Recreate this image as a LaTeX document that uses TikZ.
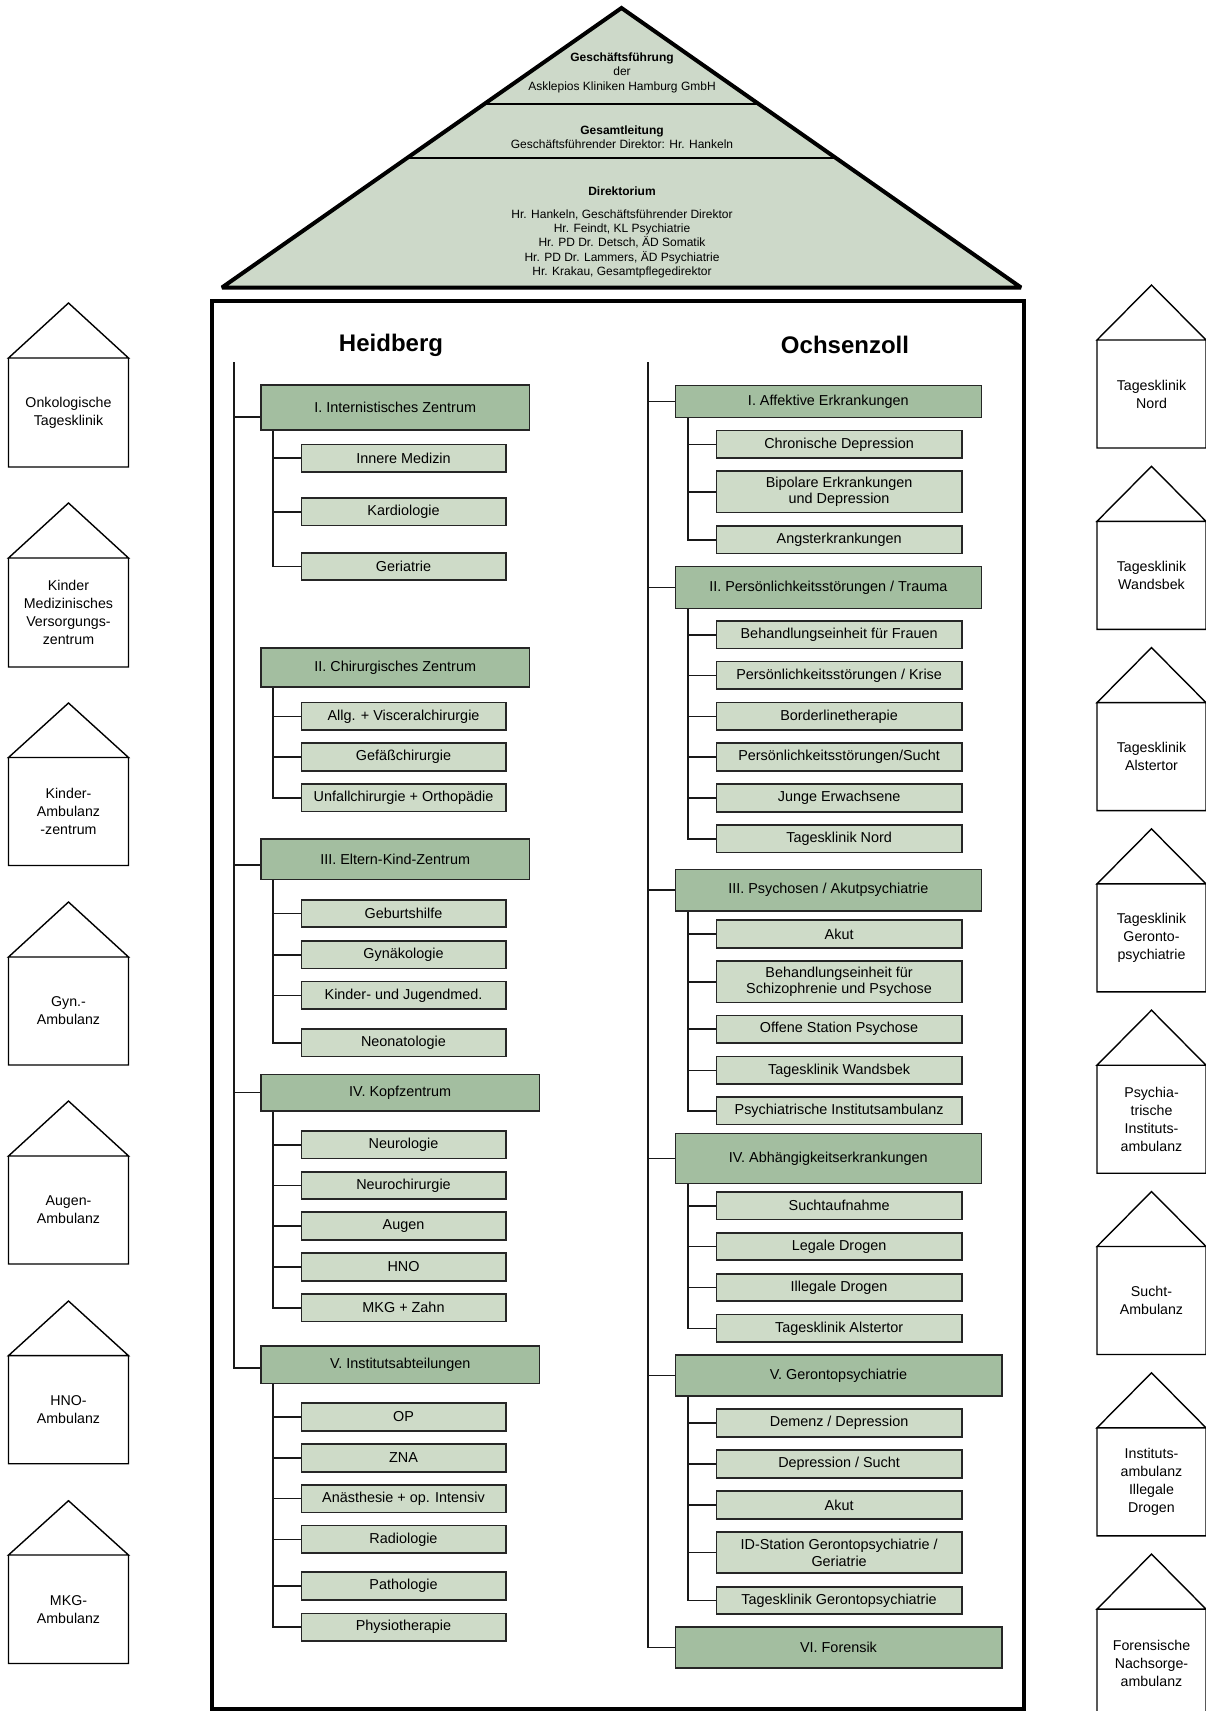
\documentclass[tikz,border=0pt]{standalone}
\usepackage{fontspec}
\setmainfont{Liberation Sans}
\usepackage{xcolor}
\usepackage{tikz}
\usetikzlibrary{calc}

\definecolor{maingreen}{RGB}{163,190,160}
\definecolor{subgreen}{RGB}{206,219,200}
\definecolor{pyrgreen}{RGB}{205,217,201}
\newcommand{\boxtxt}{\fontsize{14.4}{16.7}\selectfont}
\newcommand{\housetxt}{\fontsize{14.2}{18}\selectfont}
\newcommand{\pyrtxt}{\fontsize{12}{14.4}\selectfont}
\newcommand{\titletxt}{\fontsize{24}{28}\selectfont\bfseries}

\begin{document}
\begin{tikzpicture}[x=1pt, y=-1pt,
  mainbox/.style={draw=black!85, line width=1.6pt, fill=maingreen, inner sep=0pt, align=center, font=\boxtxt},
  subbox/.style={draw=black!85, line width=1.6pt, fill=subgreen, inner sep=0pt, align=center, font=\boxtxt, minimum height=27.5pt},
  hmain/.style={mainbox, minimum width=268.4pt},
  hmainwide/.style={mainbox, minimum width=278.4pt},
  omain/.style={mainbox, minimum width=306pt},
  omainwide/.style={mainbox, minimum width=326.4pt},
  hsub/.style={subbox, minimum width=204.4pt},
  osub/.style={subbox, minimum width=245.6pt},
  trunk/.style={draw=black!90, line width=1.6pt},
  house/.style={draw=black, line width=1.4pt},
  housetext/.style={align=center, font=\housetxt}]
\useasboundingbox (0,0) rectangle (1205,1711);

% pyramid
\coordinate (pyApex) at (621.5, 8.00);
\coordinate (pyLeft) at (222.00, 287.50);
\coordinate (pyRight) at (1021.00, 287.50);
\draw[line width=4pt, miter limit=2, fill=pyrgreen] (pyLeft) -- (pyApex) -- (pyRight) -- cycle;
\draw[line width=2.4pt] ($(pyApex)!0.3435!(pyLeft)$) -- ($(pyApex)!0.3435!(pyRight)$);
\draw[line width=2.4pt] ($(pyApex)!0.5377!(pyLeft)$) -- ($(pyApex)!0.5377!(pyRight)$);
\node[align=center, font=\pyrtxt] (pyGf) at (622.00, 72.50) {\textbf{Geschäftsführung}\\der\\Asklepios Kliniken Hamburg GmbH};
\node[align=center, font=\pyrtxt] (pyGl) at (622.00, 137.20) {\textbf{Gesamtleitung}\\Geschäftsführender Direktor: Hr. Hankeln};
\node[align=center, font=\pyrtxt] (pyDirHead) at (622.00, 191.00) {\textbf{Direktorium}};
\node[align=center, font=\pyrtxt] (pyDirList) at (622.00, 243.80) {Hr. Hankeln, Geschäftsführender Direktor\\Hr. Feindt, KL Psychiatrie\\Hr. PD Dr. Detsch, ÄD Somatik\\Hr. PD Dr. Lammers, ÄD Psychiatrie\\Hr. Krakau, Gesamtpflegedirektor};

% building
\draw[line width=4pt] (211.50, 301.00) rectangle (1024.00, 1708.50);
\node[font=\titletxt] (heidberg) at (391.00, 345.00) {Heidberg};
\node[font=\titletxt] (ochsenzoll) at (845.00, 345.00) {Ochsenzoll};

% Heidberg
\coordinate (hTrunk) at (233.80, 362.00);
\node[hmain, minimum height=45pt] (hI) at (395.20, 407.50) {I. Internistisches Zentrum};
\node[hsub] (hI1) at (403.50, 458.20) {Innere Medizin};
\node[hsub] (hI2) at (403.50, 511.70) {Kardiologie};
\node[hsub] (hI3) at (403.50, 566.50) {Geriatrie};
\node[hmain, minimum height=38.5pt] (hII) at (395.20, 667.50) {II. Chirurgisches Zentrum};
\node[hsub] (hII1) at (403.50, 716.30) {Allg. + Visceralchirurgie};
\node[hsub] (hII2) at (403.50, 757.00) {Gefäßchirurgie};
\node[hsub] (hII3) at (403.50, 797.80) {Unfallchirurgie + Orthopädie};
\node[hmain, minimum height=40.3pt] (hIII) at (395.20, 859.20) {III. Eltern-Kind-Zentrum};
\node[hsub] (hIII1) at (403.50, 913.50) {Geburtshilfe};
\node[hsub] (hIII2) at (403.50, 954.70) {Gynäkologie};
\node[hsub] (hIII3) at (403.50, 995.30) {Kinder- und Jugendmed.};
\node[hsub] (hIII4) at (403.50, 1042.80) {Neonatologie};
\node[hmainwide, minimum height=36.4pt] (hIV) at (400.20, 1092.50) {IV. Kopfzentrum};
\node[hsub] (hIV1) at (403.50, 1144.70) {Neurologie};
\node[hsub] (hIV2) at (403.50, 1185.50) {Neurochirurgie};
\node[hsub] (hIV3) at (403.50, 1226.00) {Augen};
\node[hsub] (hIV4) at (403.50, 1267.00) {HNO};
\node[hsub] (hIV5) at (403.50, 1307.70) {MKG + Zahn};
\node[hmainwide, minimum height=37.3pt] (hV) at (400.20, 1364.70) {V. Institutsabteilungen};
\node[hsub] (hV1) at (403.50, 1417.00) {OP};
\node[hsub] (hV2) at (403.50, 1458.00) {ZNA};
\node[hsub] (hV3) at (403.50, 1498.60) {Anästhesie + op. Intensiv};
\node[hsub] (hV4) at (403.50, 1539.30) {Radiologie};
\node[hsub] (hV5) at (403.50, 1586.00) {Pathologie};
\node[hsub] (hV6) at (403.50, 1627.20) {Physiotherapie};

\draw[trunk] (hTrunk) |- ([yshift=-3pt]hV.west);
\draw[trunk] ([yshift=-9.5pt]hTrunk |- hI.west) -- ([yshift=-9.5pt]hI.west);
\draw[trunk] ([yshift=-6pt]hTrunk |- hIII.west) -- ([yshift=-6pt]hIII.west);
\draw[trunk] (hTrunk |- hIV.west) -- (hIV.west);
\draw[trunk] ([xshift=13pt]hI.south west) |- (hI3.west);
\draw[trunk] ([xshift=13pt]hI.south west |- hI1.west) -- (hI1.west);
\draw[trunk] ([xshift=13pt]hI.south west |- hI2.west) -- (hI2.west);
\draw[trunk] ([xshift=13pt]hII.south west) |- (hII3.west);
\draw[trunk] ([xshift=13pt]hII.south west |- hII1.west) -- (hII1.west);
\draw[trunk] ([xshift=13pt]hII.south west |- hII2.west) -- (hII2.west);
\draw[trunk] ([xshift=13pt]hIII.south west) |- (hIII4.west);
\draw[trunk] ([xshift=13pt]hIII.south west |- hIII1.west) -- (hIII1.west);
\draw[trunk] ([xshift=13pt]hIII.south west |- hIII2.west) -- (hIII2.west);
\draw[trunk] ([xshift=13pt]hIII.south west |- hIII3.west) -- (hIII3.west);
\draw[trunk] ([xshift=13pt]hIV.south west) |- (hIV5.west);
\draw[trunk] ([xshift=13pt]hIV.south west |- hIV1.west) -- (hIV1.west);
\draw[trunk] ([xshift=13pt]hIV.south west |- hIV2.west) -- (hIV2.west);
\draw[trunk] ([xshift=13pt]hIV.south west |- hIV3.west) -- (hIV3.west);
\draw[trunk] ([xshift=13pt]hIV.south west |- hIV4.west) -- (hIV4.west);
\draw[trunk] ([xshift=13pt]hV.south west) |- (hV6.west);
\draw[trunk] ([xshift=13pt]hV.south west |- hV1.west) -- (hV1.west);
\draw[trunk] ([xshift=13pt]hV.south west |- hV2.west) -- (hV2.west);
\draw[trunk] ([xshift=13pt]hV.south west |- hV3.west) -- (hV3.west);
\draw[trunk] ([xshift=13pt]hV.south west |- hV4.west) -- (hV4.west);
\draw[trunk] ([xshift=13pt]hV.south west |- hV5.west) -- (hV5.west);

% Ochsenzoll
\coordinate (oTrunk) at (648.00, 362.00);
\node[omain, minimum height=32pt] (oI) at (828.30, 401.30) {I. Affektive Erkrankungen};
\node[osub] (oI1) at (839.10, 444.30) {Chronische Depression};
\node[osub, minimum height=41.3pt] (oI2) at (839.10, 491.70) {Bipolare Erkrankungen\\und Depression};
\node[osub] (oI3) at (839.10, 539.70) {Angsterkrankungen};
\node[omain, minimum height=41.7pt] (oII) at (828.30, 587.50) {II. Persönlichkeitsstörungen / Trauma};
\node[osub] (oII1) at (839.10, 634.70) {Behandlungseinheit für Frauen};
\node[osub] (oII2) at (839.10, 675.30) {Persönlichkeitsstörungen / Krise};
\node[osub] (oII3) at (839.10, 716.30) {Borderlinetherapie};
\node[osub] (oII4) at (839.10, 757.00) {Persönlichkeitsstörungen/Sucht};
\node[osub] (oII5) at (839.10, 798.00) {Junge Erwachsene};
\node[osub] (oII6) at (839.10, 838.80) {Tagesklinik Nord};
\node[omain, minimum height=41.7pt] (oIII) at (828.30, 890.20) {III. Psychosen / Akutpsychiatrie};
\node[osub] (oIII1) at (839.10, 934.00) {Akut};
\node[osub, minimum height=41.3pt] (oIII2) at (839.10, 981.70) {Behandlungseinheit für\\Schizophrenie und Psychose};
\node[osub] (oIII3) at (839.10, 1029.20) {Offene Station Psychose};
\node[osub] (oIII4) at (839.10, 1070.30) {Tagesklinik Wandsbek};
\node[osub] (oIII5) at (839.10, 1110.80) {Psychiatrische Institutsambulanz};
\node[omain, minimum height=50pt] (oIV) at (828.30, 1158.30) {IV. Abhängigkeitserkrankungen};
\node[osub] (oIV1) at (839.10, 1205.70) {Suchtaufnahme};
\node[osub] (oIV2) at (839.10, 1246.50) {Legale Drogen};
\node[osub] (oIV3) at (839.10, 1287.50) {Illegale Drogen};
\node[osub] (oIV4) at (839.10, 1328.30) {Tagesklinik Alstertor};
\node[omainwide, minimum height=41pt] (oV) at (838.50, 1375.50) {V. Gerontopsychiatrie};
\node[osub] (oV1) at (839.10, 1423.00) {Demenz / Depression};
\node[osub] (oV2) at (839.10, 1464.00) {Depression / Sucht};
\node[osub] (oV3) at (839.10, 1505.00) {Akut};
\node[osub, minimum height=41pt] (oV4) at (839.10, 1552.50) {ID-Station Gerontopsychiatrie /\\Geriatrie};
\node[osub] (oV5) at (839.10, 1600.50) {Tagesklinik Gerontopsychiatrie};
\node[omainwide, minimum height=41.5pt] (oVI) at (838.50, 1647.50) {VI. Forensik};

\draw[trunk] (oTrunk) |- (oVI.west);
\draw[trunk] (oTrunk |- oI.west) -- (oI.west);
\draw[trunk] (oTrunk |- oII.west) -- (oII.west);
\draw[trunk] (oTrunk |- oIII.west) -- (oIII.west);
\draw[trunk] (oTrunk |- oIV.west) -- (oIV.west);
\draw[trunk] (oTrunk |- oV.west) -- (oV.west);
\draw[trunk] ([xshift=13.5pt]oI.south west) |- (oI3.west);
\draw[trunk] ([xshift=13.5pt]oI.south west |- oI1.west) -- (oI1.west);
\draw[trunk] ([xshift=13.5pt]oI.south west |- oI2.west) -- (oI2.west);
\draw[trunk] ([xshift=13.5pt]oII.south west) |- (oII6.west);
\draw[trunk] ([xshift=13.5pt]oII.south west |- oII1.west) -- (oII1.west);
\draw[trunk] ([xshift=13.5pt]oII.south west |- oII2.west) -- (oII2.west);
\draw[trunk] ([xshift=13.5pt]oII.south west |- oII3.west) -- (oII3.west);
\draw[trunk] ([xshift=13.5pt]oII.south west |- oII4.west) -- (oII4.west);
\draw[trunk] ([xshift=13.5pt]oII.south west |- oII5.west) -- (oII5.west);
\draw[trunk] ([xshift=13.5pt]oIII.south west) |- (oIII5.west);
\draw[trunk] ([xshift=13.5pt]oIII.south west |- oIII1.west) -- (oIII1.west);
\draw[trunk] ([xshift=13.5pt]oIII.south west |- oIII2.west) -- (oIII2.west);
\draw[trunk] ([xshift=13.5pt]oIII.south west |- oIII3.west) -- (oIII3.west);
\draw[trunk] ([xshift=13.5pt]oIII.south west |- oIII4.west) -- (oIII4.west);
\draw[trunk] ([xshift=13.5pt]oIV.south west) |- (oIV4.west);
\draw[trunk] ([xshift=13.5pt]oIV.south west |- oIV1.west) -- (oIV1.west);
\draw[trunk] ([xshift=13.5pt]oIV.south west |- oIV2.west) -- (oIV2.west);
\draw[trunk] ([xshift=13.5pt]oIV.south west |- oIV3.west) -- (oIV3.west);
\draw[trunk] ([xshift=13.5pt]oV.south west) |- (oV5.west);
\draw[trunk] ([xshift=13.5pt]oV.south west |- oV1.west) -- (oV1.west);
\draw[trunk] ([xshift=13.5pt]oV.south west |- oV2.west) -- (oV2.west);
\draw[trunk] ([xshift=13.5pt]oV.south west |- oV3.west) -- (oV3.west);
\draw[trunk] ([xshift=13.5pt]oV.south west |- oV4.west) -- (oV4.west);

% houses left
\draw[house] (8.50, 358.00) -- (68.50, 303.00) -- (128.50, 358.00) -- cycle (8.50, 358.00) rectangle (128.50, 467.00);
\node[housetext] (lh1) at (68.50, 412.50) {Onkologische\\Tagesklinik};
\draw[house] (8.50, 558.00) -- (68.50, 503.00) -- (128.50, 558.00) -- cycle (8.50, 558.00) rectangle (128.50, 667.00);
\node[housetext] (lh2) at (68.50, 612.50) {Kinder\\Medizinisches\\Versorgungs-\\zentrum};
\draw[house] (8.50, 757.50) -- (68.50, 703.00) -- (128.50, 757.50) -- cycle (8.50, 757.50) rectangle (128.50, 865.50);
\node[housetext] (lh3) at (68.50, 811.50) {Kinder-\\Ambulanz\\-zentrum};
\draw[house] (8.50, 957.00) -- (68.50, 902.00) -- (128.50, 957.00) -- cycle (8.50, 957.00) rectangle (128.50, 1065.00);
\node[housetext] (lh4) at (68.50, 1011.00) {Gyn.-\\Ambulanz};
\draw[house] (8.50, 1156.00) -- (68.50, 1101.00) -- (128.50, 1156.00) -- cycle (8.50, 1156.00) rectangle (128.50, 1264.00);
\node[housetext] (lh5) at (68.50, 1210.00) {Augen-\\Ambulanz};
\draw[house] (8.50, 1355.60) -- (68.50, 1301.00) -- (128.50, 1355.60) -- cycle (8.50, 1355.60) rectangle (128.50, 1463.70);
\node[housetext] (lh6) at (68.50, 1409.60) {HNO-\\Ambulanz};
\draw[house] (8.50, 1555.00) -- (68.50, 1500.70) -- (128.50, 1555.00) -- cycle (8.50, 1555.00) rectangle (128.50, 1663.50);
\node[housetext] (lh7) at (68.50, 1609.20) {MKG-\\Ambulanz};

% houses right
\draw[house] (1097.00, 340.00) -- (1151.50, 285.00) -- (1206.00, 340.00) -- cycle (1097.00, 340.00) rectangle (1206.00, 448.00);
\node[housetext] (rh1) at (1151.50, 394.00) {Tagesklinik\\Nord};
\draw[house] (1097.00, 521.30) -- (1151.50, 466.30) -- (1206.00, 521.30) -- cycle (1097.00, 521.30) rectangle (1206.00, 629.30);
\node[housetext] (rh2) at (1151.50, 575.30) {Tagesklinik\\Wandsbek};
\draw[house] (1097.00, 702.60) -- (1151.50, 647.60) -- (1206.00, 702.60) -- cycle (1097.00, 702.60) rectangle (1206.00, 810.60);
\node[housetext] (rh3) at (1151.50, 756.60) {Tagesklinik\\Alstertor};
\draw[house] (1097.00, 883.90) -- (1151.50, 828.90) -- (1206.00, 883.90) -- cycle (1097.00, 883.90) rectangle (1206.00, 991.90);
\node[housetext] (rh4) at (1151.50, 937.90) {Tagesklinik\\Geronto-\\psychiatrie};
\draw[house] (1097.00, 1065.20) -- (1151.50, 1010.20) -- (1206.00, 1065.20) -- cycle (1097.00, 1065.20) rectangle (1206.00, 1173.20);
\node[housetext] (rh5) at (1151.50, 1119.20) {Psychia-\\trische\\Instituts-\\ambulanz};
\draw[house] (1097.00, 1246.50) -- (1151.50, 1191.50) -- (1206.00, 1246.50) -- cycle (1097.00, 1246.50) rectangle (1206.00, 1354.50);
\node[housetext] (rh6) at (1151.50, 1300.50) {Sucht-\\Ambulanz};
\draw[house] (1097.00, 1427.80) -- (1151.50, 1372.80) -- (1206.00, 1427.80) -- cycle (1097.00, 1427.80) rectangle (1206.00, 1535.80);
\node[housetext] (rh7) at (1151.50, 1481.80) {Instituts-\\ambulanz\\Illegale\\Drogen};
\draw[house] (1097.00, 1609.10) -- (1151.50, 1554.10) -- (1206.00, 1609.10) -- cycle (1097.00, 1609.10) rectangle (1206.00, 1717.10);
\node[housetext] (rh8) at (1151.50, 1663.10) {Forensische\\Nachsorge-\\ambulanz};
\end{tikzpicture}
\end{document}
